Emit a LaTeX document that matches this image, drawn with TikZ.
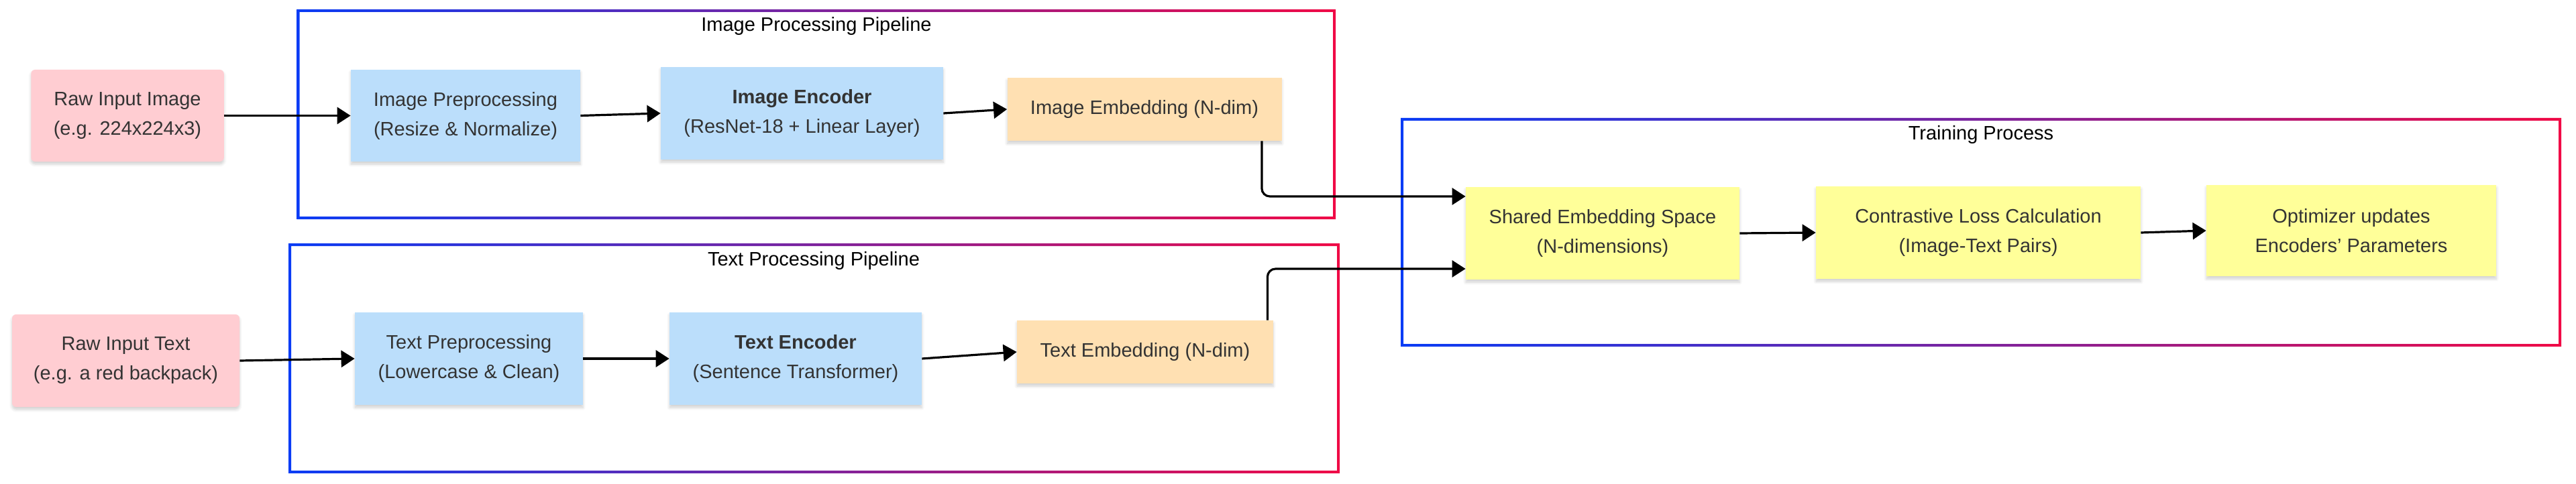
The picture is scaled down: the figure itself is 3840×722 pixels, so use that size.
\documentclass[tikz,border=0pt]{standalone}
\usepackage{fontspec}
\setmainfont{Liberation Sans}
\usetikzlibrary{arrows.meta,shadows.blur}
\definecolor{inputpink}{RGB}{255,205,210}
\definecolor{procblue}{RGB}{187,222,251}
\definecolor{embedorange}{RGB}{255,224,178}
\definecolor{trainyellow}{RGB}{255,255,153}
\definecolor{labelgray}{RGB}{51,51,51}
\definecolor{frameblue}{RGB}{10,60,245}
\definecolor{framered}{RGB}{240,10,70}
\newcommand{\gradframe}[4]{%
	\shade[left color=frameblue,right color=framered,even odd rule]
		(#1-2,#2-2) rectangle (#3+2,#4+2)
		(#1+2,#2+2) rectangle (#3-2,#4-2);}
\begin{document}
\begin{tikzpicture}[
		x=0.5pt,y=-0.5pt,
		every node/.style={font=\fontsize{14.5}{22}\selectfont},
		box/.style={draw=none,align=center,text=labelgray,inner sep=0pt,
			blur shadow={shadow blur steps=6,shadow xshift=0pt,shadow yshift=-2pt,shadow opacity=18}},
		inputbox/.style={box,fill=inputpink,rounded corners=3pt},
		procbox/.style={box,fill=procblue},
		embedbox/.style={box,fill=embedorange},
		trainbox/.style={box,fill=trainyellow},
		title/.style={anchor=base,text=black},
		link/.style={draw=black,line width=1.6pt,-{Triangle[length=10pt,width=12.5pt]}}
	]
	\useasboundingbox (0,0) rectangle (3840,722);

	\gradframe{444.5}{16}{1989}{325}
	\gradframe{432}{365}{1995}{704}
	\gradframe{2090}{178}{3816}{515}

	\node[title] (imgtitle) at (1217,47) {Image Processing Pipeline};
	\node[title] (txttitle) at (1213,396) {Text Processing Pipeline};
	\node[title] (traintitle) at (2953,208) {Training Process};

	\node[inputbox,minimum width=143.75pt,minimum height=68.5pt] (rawimg) at (190,172.5)
		{Raw Input Image\\(e.g. 224x224x3)};
	\node[procbox,minimum width=171pt,minimum height=68.5pt] (imgpre) at (694,172.5)
		{Image Preprocessing\\(Resize \& Normalize)};
	\node[procbox,minimum width=210.5pt,minimum height=69pt] (imgenc) at (1195.5,169)
		{\textbf{Image Encoder}\\(ResNet-18 + Linear Layer)};
	\node[embedbox,minimum width=204.5pt,minimum height=47pt] (imgemb) at (1706,163)
		{Image Embedding (N-dim)};

	\node[inputbox,minimum width=169.5pt,minimum height=69pt] (rawtxt) at (187.5,538)
		{Raw Input Text\\(e.g. a red backpack)};
	\node[procbox,minimum width=170pt,minimum height=69pt] (txtpre) at (699,535)
		{Text Preprocessing\\(Lowercase \& Clean)};
	\node[procbox,minimum width=188pt,minimum height=69pt] (txtenc) at (1186,535)
		{\textbf{Text Encoder}\\(Sentence Transformer)};
	\node[embedbox,minimum width=191pt,minimum height=47pt] (txtemb) at (1707,525)
		{Text Embedding (N-dim)};

	\node[trainbox,minimum width=204pt,minimum height=69pt] (shared) at (2389,348)
		{Shared Embedding Space\\(N-dimensions)};
	\node[trainbox,minimum width=242pt,minimum height=69pt] (loss) at (2949,347)
		{Contrastive Loss Calculation\\(Image-Text Pairs)};
	\node[trainbox,minimum width=216pt,minimum height=68pt] (optim) at (3505,344)
		{Optimizer updates\\Encoders' Parameters};

	\draw[link] (rawimg.east) -- (imgpre.west);
	\draw[link] (imgpre.east) -- (imgenc.west);
	\draw[link] (imgenc.east) -- (imgemb.west);
	\draw[link] (rawtxt.east) -- (txtpre.west);
	\draw[link] (txtpre.east) -- (txtenc.west);
	\draw[link] (txtenc.east) -- (txtemb.west);
	\draw[link,rounded corners=6pt] ([xshift=-15pt]imgemb.south east) |- ([yshift=27.5pt]shared.west);
	\draw[link,rounded corners=6pt] ([xshift=-4.5pt]txtemb.north east) |- ([yshift=-26.5pt]shared.west);
	\draw[link] (shared.east) -- (loss.west);
	\draw[link] (loss.east) -- (optim.west);
\end{tikzpicture}
\end{document}
